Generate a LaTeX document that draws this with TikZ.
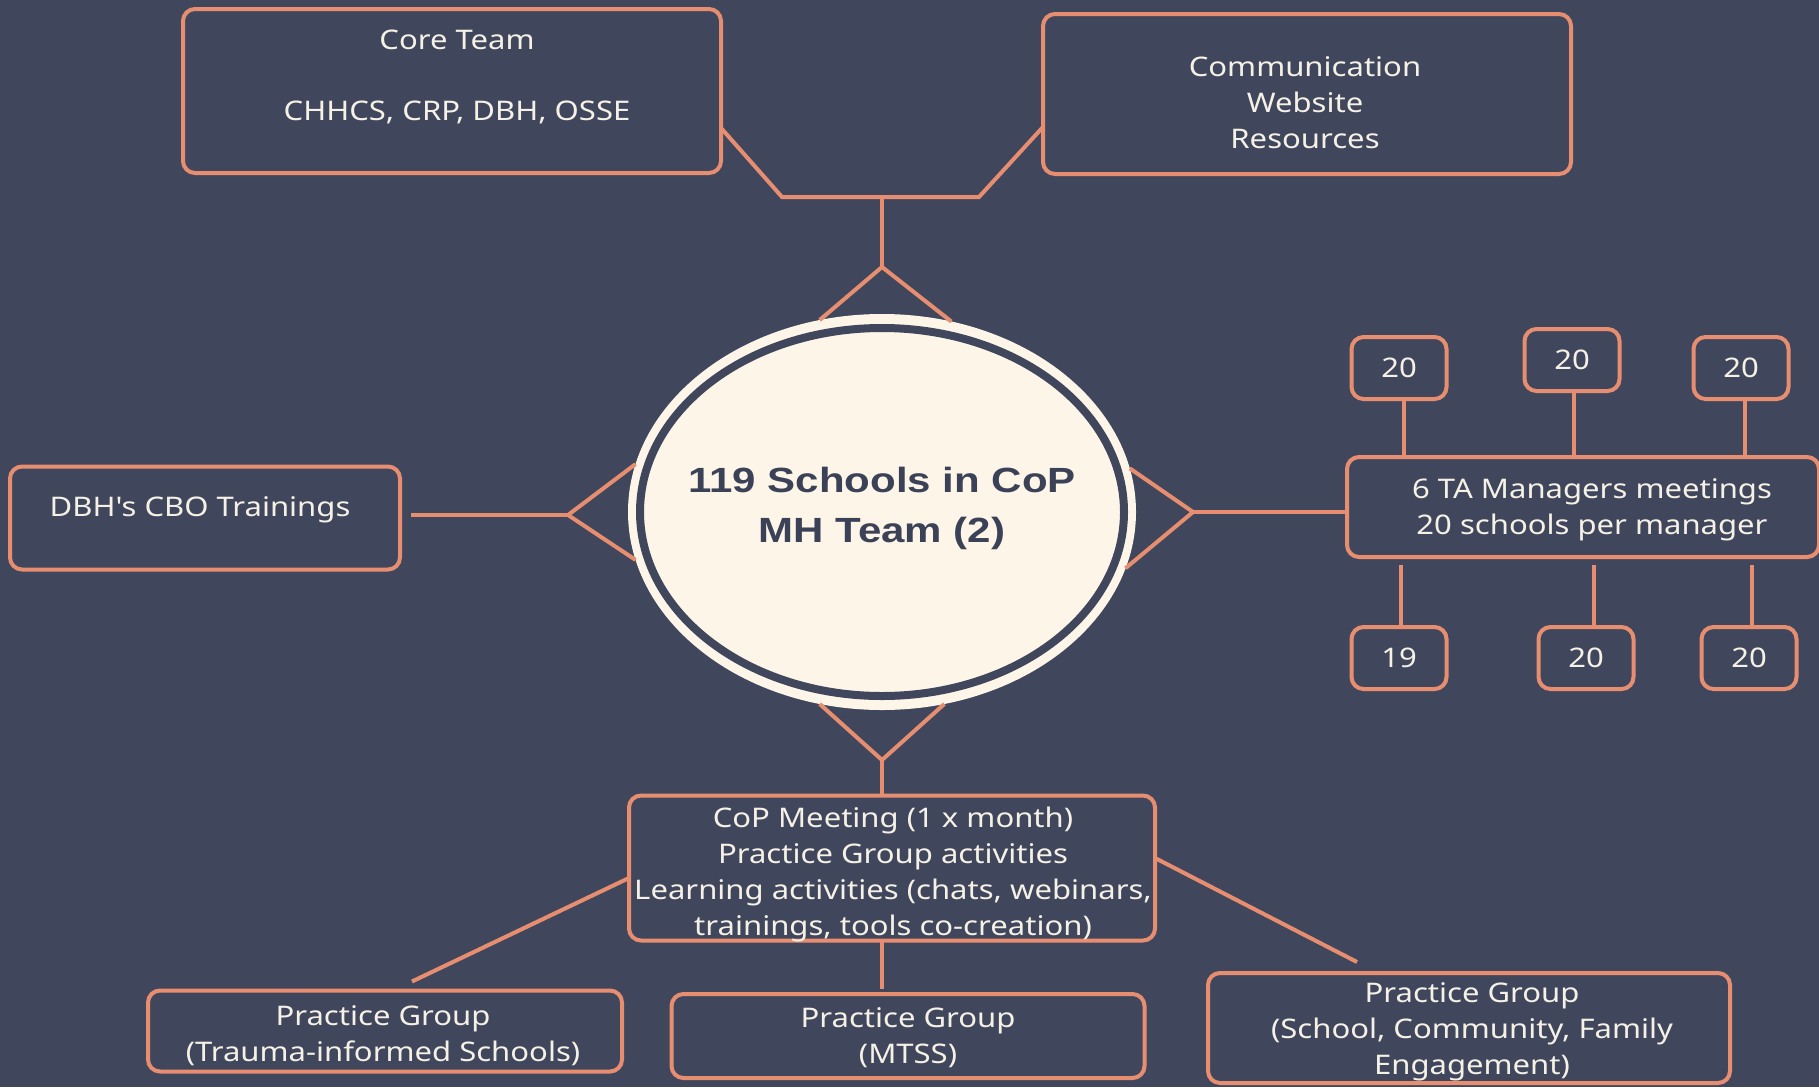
\documentclass[tikz,border=0pt]{standalone}
\usepackage{fontspec}
\newfontfamily\mainf{Noto Sans}[FakeStretch=1.15]
\newfontfamily\ctrf{Liberation Sans}[FakeStretch=1.2]
\usetikzlibrary{shapes.geometric,calc}
\definecolor{bgc}{HTML}{40475C}
\definecolor{sal}{HTML}{E88E70}
\definecolor{crm}{HTML}{F6F1E6}
\definecolor{ellc}{HTML}{FDF5E8}
\definecolor{dk}{HTML}{3B4257}
\tikzset{
 box/.style={draw=sal, line width=4pt, rounded corners=12pt, inner sep=0pt, outer sep=0pt},
 sbox/.style={box, minimum width=95pt, minimum height=62pt, text=crm, font=\mainf\fontsize{27}{36}\selectfont},
 txt/.style={text=crm, font=\mainf\fontsize{27}{36}\selectfont, align=center, inner sep=0pt},
 conn/.style={draw=sal, line width=4pt},
}
\begin{document}
\begin{tikzpicture}[x=1pt,y=-1pt]
\useasboundingbox (0,0) rectangle (1819,1087);
\fill[bgc] (0,0) rectangle (1819,1087);

% boxes
\node[box, minimum width=538pt, minimum height=164pt] (core) at (452,91) {};
\node[txt] (coret) at (457,77) {Core Team\\[35pt]CHHCS, CRP, DBH, OSSE};
\node[box, minimum width=528pt, minimum height=160pt] (comm) at (1307,94) {};
\node[txt] (commt) at (1305,103) {Communication\\Website\\Resources};
\node[box, minimum width=390pt, minimum height=103pt] (dbh) at (205,518) {};
\node[txt] (dbht) at (200,510) {DBH's CBO Trainings};
\node[box, minimum width=472pt, minimum height=100pt] (ta) at (1583,507) {};
\node[txt] (tat) at (1592,510) {6 TA Managers meetings\\20 schools per manager};
\node[box, minimum width=526pt, minimum height=145pt] (cop) at (892,868) {};
\node[txt] (copt) at (893,874) {CoP Meeting (1 x month)\\Practice Group activities\\Learning activities (chats, webinars,\\trainings, tools co-creation)};
\node[box, minimum width=474pt, minimum height=81pt] (pl) at (385,1031) {};
\node[txt] (plt) at (383,1036) {Practice Group\\(Trauma-informed Schools)};
\node[box, minimum width=473pt, minimum height=84pt] (pm) at (908,1036) {};
\node[txt] (pmt) at (908,1038) {Practice Group\\(MTSS)};
\node[box, minimum width=522pt, minimum height=110pt] (pr) at (1469,1028) {};
\node[txt] (prt) at (1472,1032) {Practice Group\\(School, Community, Family\\Engagement)};

% small boxes
\node[sbox] (t1) at (1399,368) {20};
\node[sbox] (t2) at (1572,360) {20};
\node[sbox] (t3) at (1741,368) {20};
\node[sbox] (b1) at (1399,658) {19};
\node[sbox] (b2) at (1586,658) {20};
\node[sbox] (b3) at (1749,658) {20};

% centre ellipse
\node[ellipse, fill=ellc, minimum width=508pt, minimum height=396pt, inner sep=0pt, outer sep=0pt] (ell) at (882,512) {};
\draw[bgc, line width=8pt] (ell.center) ellipse [x radius=242, y radius=184];
\node[text=dk, font=\ctrf\bfseries\fontsize{35}{50}\selectfont, align=center, inner sep=0pt] (ellt) at (882,508) {119 Schools in CoP\\MH Team (2)};

% top connectors
\coordinate (j1) at (782,197);
\coordinate (j2) at (979,197);
\coordinate (ja) at (882,197);
\coordinate (dt) at (882,267);
\draw[conn] ([yshift=-37pt]core.east) -- (j1) -- (j2) -- ([yshift=-33pt]comm.west);
\draw[conn] (ja) -- (dt);
\draw[conn] (ell.108) -- (dt) -- (ell.70.5);

% left
\coordinate (dl) at (568,515);
\draw[conn] (ell.169) -- (dl) -- (ell.191);
\draw[conn] (dl) -- ($(dl -| dbh.east)+(11,0)$);

% right
\coordinate (dr) at (1193,512);
\draw[conn] (ell.10.5) -- (dr) -- (ell.347);
\draw[conn] (dr) -- (dr -| ta.west);

% small box connectors
\draw[conn] ([xshift=5pt]t1.south) -- ([xshift=5pt]t1.south |- ta.north);
\draw[conn] ([xshift=2pt]t2.south) -- ([xshift=2pt]t2.south |- ta.north);
\draw[conn] ([xshift=4pt]t3.south) -- ([xshift=4pt]t3.south |- ta.north);
\draw[conn] ([xshift=2pt]b1.north) -- ($([xshift=2pt]b1.north |- ta.south)+(0,8)$);
\draw[conn] ([xshift=8pt]b2.north) -- ($([xshift=8pt]b2.north |- ta.south)+(0,8)$);
\draw[conn] ([xshift=3pt]b3.north) -- ($([xshift=3pt]b3.north |- ta.south)+(0,8)$);

% bottom
\coordinate (db) at (882,760);
\draw[conn] (ell.252) -- (db) -- (ell.288);
\draw[conn] (db) -- (db |- cop.north);
\draw[conn] ([yshift=-10pt]cop.west) -- ($(pl.north)+(27,-9)$);
\draw[conn] ([yshift=10pt]cop.east) -- ($(pr.north)+(-112,-11)$);
\draw[conn] (db |- cop.south) -- ($(db |- pm.north)+(0,-5)$);
\end{tikzpicture}
\end{document}
